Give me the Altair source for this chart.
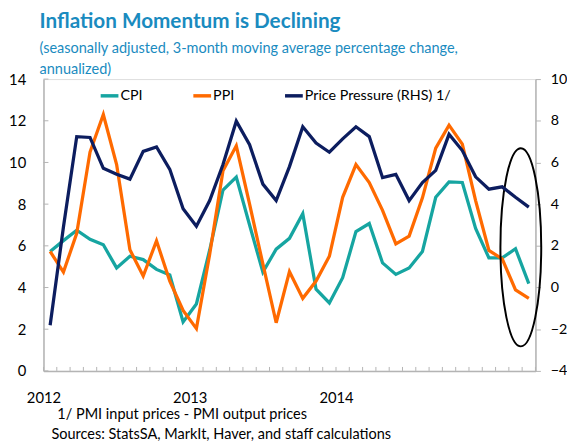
import altair as alt
import pandas as pd

# ---- data ----
months = list(range(37))  # Jan 2012 ... Jan 2015, monthly index
cpi = [5.73, 6.25, 6.75, 6.31, 6.05, 4.94, 5.50, 5.34, 4.87, 4.60, 2.35, 3.21, 5.80,
       8.68, 9.30, 7.00, 4.74, 5.84, 6.36, 7.54, 3.92, 3.26, 4.47, 6.68, 7.07, 5.18,
       4.63, 4.94, 5.73, 8.33, 9.07, 9.04, 6.83, 5.42, 5.42, 5.86, 4.19]
ppi = [5.73, 4.74, 6.60, 10.50, 12.30, 9.90, 5.81, 4.55, 6.24, 4.30, 2.90, 2.03, 5.60,
       9.60, 10.80, 8.00, 5.13, 2.31, 4.76, 3.48, 4.31, 5.50, 8.33, 9.90, 9.04, 7.70,
       6.09, 6.47, 8.30, 10.69, 11.79, 10.88, 8.17, 5.78, 5.37, 3.89, 3.48]
pressure = [-1.81, 2.90, 7.24, 7.20, 5.72, 5.43, 5.20, 6.53, 6.74, 5.67, 3.78, 2.94, 4.17,
            5.90, 7.98, 6.85, 4.96, 4.17, 5.80, 7.71, 6.93, 6.49, 7.13, 7.71, 7.24, 5.27,
            5.43, 4.17, 5.04, 5.62, 7.35, 6.57, 5.31, 4.72, 4.83, 4.33, 3.86]

series_names = ["CPI", "PPI", "Price Pressure (RHS) 1/"]
series_colors = ["#16a5a1", "#ff6a00", "#0c1d5f"]

year_labels = ["2012", "2013", "2014"]
year_positions = [-0.5, 10.5, 21.5]
x_tick_positions = [m - 0.5 for m in range(38)]
left_ticks = [0, 2, 4, 6, 8, 10, 12, 14]
right_ticks = [-4, -2, 0, 2, 4, 6, 8, 10]

ellipse_x = [35.4]
ellipse_y = [5.93]

title_text = "Inflation Momentum is Declining"
subtitle_lines = ["(seasonally adjusted, 3-month moving average percentage change,", "annualized)"]
footnotes = ["1/ PMI input prices - PMI output prices",
             "Sources: StatsSA, MarkIt, Haver, and staff calculations"]

FONT = "Lato"
AXIS_GRAY = "#b4b4b4"
TITLE_BLUE = "#1a8bbf"
W, H = 499, 296

# ---- tables ----
left_df = pd.DataFrame({
    "month": months * 2,
    "value": cpi + ppi,
    "series": [series_names[0]] * len(months) + [series_names[1]] * len(months),
})
right_df = pd.DataFrame({"month": months, "value": pressure, "series": series_names[2]})
xtick_df = pd.DataFrame({"pos": x_tick_positions})
ytick_df = pd.DataFrame({"value": left_ticks})
ell_df = pd.DataFrame({"month": ellipse_x, "value": ellipse_y})

label_expr = " : ".join(
    f"abs(datum.value - ({p})) < 0.01 ? '{t}'" for p, t in zip(year_positions, year_labels)
) + " : ''"

x_scale = alt.Scale(domain=[-0.5, 36.5], nice=False, zero=False)
x_axis = alt.Axis(values=year_positions, labelExpr=label_expr, ticks=False, grid=False,
                  labelFlush=False, domainColor=AXIS_GRAY, domainWidth=1.5,
                  labelFontSize=15, labelPadding=20, labelColor="#000", labelFont=FONT,
                  title=None)
left_scale = alt.Scale(domain=[0, 14], nice=False, zero=False)
right_scale = alt.Scale(domain=[-4, 10], nice=False, zero=False)
left_axis = alt.Axis(values=left_ticks, orient="left", grid=False, ticks=False,
                     domainColor=AXIS_GRAY, domainWidth=1.5, labelFontSize=15,
                     labelPadding=18, labelColor="#000", labelFont=FONT, title=None)

color = alt.Color(
    "series:N",
    scale=alt.Scale(domain=series_names, range=series_colors),
    sort=series_names,
    legend=alt.Legend(orient="none", legendX=56, legendY=6, direction="horizontal",
                      title=None, symbolType="stroke", symbolSize=324,
                      symbolStrokeWidth=3.5, labelFontSize=14.5, labelFont=FONT,
                      labelOffset=0, columnPadding=44, padding=0, labelColor="#000"),
)

x_tick_rules = alt.Chart(xtick_df).mark_rule(color=AXIS_GRAY, strokeWidth=1).encode(
    x=alt.X("pos:Q", scale=x_scale, axis=x_axis),
    y=alt.value(H), y2=alt.value(H - 4),
)
y_tick_rules = alt.Chart(ytick_df).mark_rule(color=AXIS_GRAY, strokeWidth=1).encode(
    y=alt.Y("value:Q", scale=left_scale, axis=left_axis),
    x=alt.value(0), x2=alt.value(5),
)
left_lines = alt.Chart(left_df).mark_line(strokeWidth=3.3).encode(
    x=alt.X("month:Q", scale=x_scale, axis=x_axis),
    y=alt.Y("value:Q", scale=left_scale, axis=left_axis),
    color=color,
    detail="series:N",
)
ellipse = alt.Chart(ell_df).mark_point(
    shape="M 0 -1 A 0.206 1 0 1 1 0 1 A 0.206 1 0 1 1 0 -1 Z",
    size=(2 * 100.5) ** 2, filled=False, stroke="black", strokeWidth=2, opacity=1,
).encode(
    x=alt.X("month:Q", scale=x_scale, axis=x_axis),
    y=alt.Y("value:Q", scale=left_scale, axis=left_axis),
)
foot1 = alt.Chart(ell_df).mark_text(text=footnotes[0], align="left", baseline="middle",
                                    fontSize=14.7, font=FONT, color="#000").encode(
    x=alt.value(14), y=alt.value(H + 45))
foot2 = alt.Chart(ell_df).mark_text(text=footnotes[1], align="left", baseline="middle",
                                    fontSize=14.7, font=FONT, color="#000").encode(
    x=alt.value(8), y=alt.value(H + 65))

left_layer = alt.layer(x_tick_rules, y_tick_rules, left_lines, ellipse, foot1, foot2)

right_line = alt.Chart(right_df).mark_line(strokeWidth=3.3).encode(
    x=alt.X("month:Q", scale=x_scale, axis=x_axis),
    y=alt.Y("value:Q", scale=right_scale,
            axis=alt.Axis(values=right_ticks, orient="right", grid=False, tickSize=5,
                          tickColor=AXIS_GRAY, domainColor=AXIS_GRAY, domainWidth=1.5,
                          labelFontSize=14.5, labelPadding=10, labelColor="#000",
                          labelFont=FONT, title=None)),
    color=color,
)

chart = alt.layer(left_layer, right_line).resolve_scale(y="independent").properties(
    width=W, height=H,
    autosize=alt.AutoSizeParams(type="none"),
    padding={"left": 36, "top": 69, "right": 32, "bottom": 68},
    title=alt.Title(title_text, subtitle=subtitle_lines, anchor="start", frame="group",
                    font=FONT, fontSize=21, fontWeight="bold", color=TITLE_BLUE,
                    subtitleFont=FONT, subtitleFontSize=14.7, subtitleColor=TITLE_BLUE,
                    subtitleLineHeight=22, subtitlePadding=9, dx=-4, offset=-6),
).configure_view(stroke=None).configure(background="white")

chart.save("out.html", embed_options={"renderer": "svg", "actions": False})
